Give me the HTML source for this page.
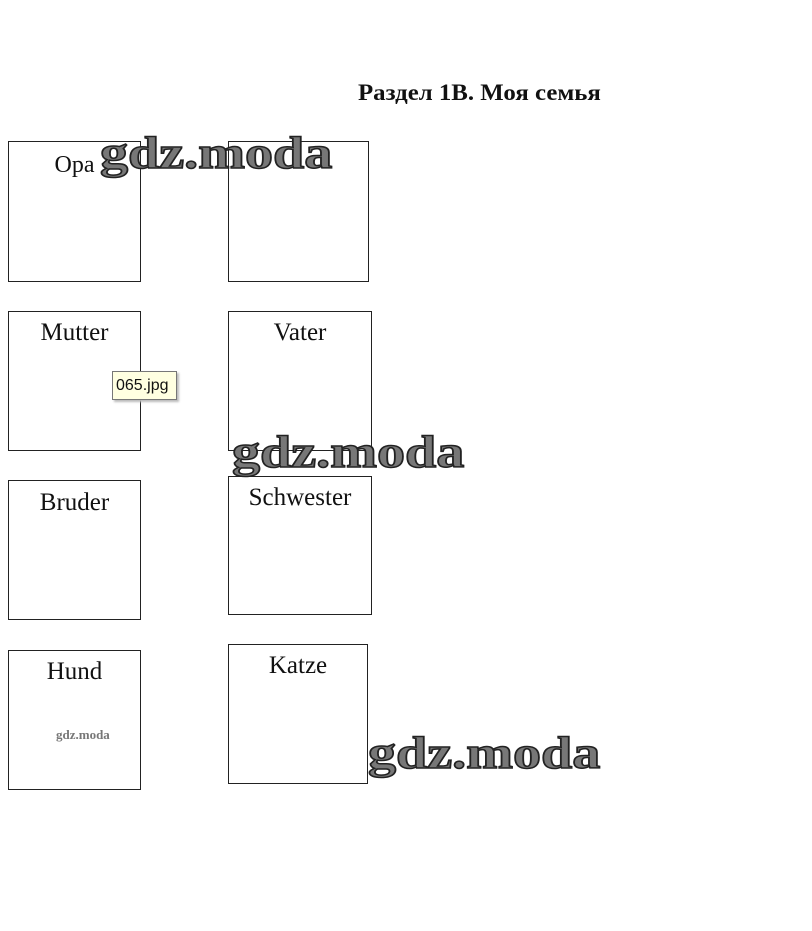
<!DOCTYPE html>
<html><head><meta charset="utf-8"><style>
body{margin:0;width:812px;height:931px;background:#fff;position:relative;overflow:hidden;font-family:"Liberation Serif",serif}
.b{position:absolute;border:1px solid #222;box-sizing:border-box}
.t{position:absolute;font-size:25px;color:#111;text-align:center;width:100%;left:0}
.w{position:absolute;font-family:"Liberation Serif",serif;font-weight:bold;font-size:46px;color:#777;-webkit-text-stroke:1.5px #222;letter-spacing:0px;line-height:1;transform-origin:0 0;transform:scaleX(1.22)}
</style></head><body>
<div style="position:absolute;left:358px;top:80px;font-size:23px;font-weight:bold;color:#111;transform-origin:0 0;transform:scaleX(1.08)">Раздел 1В. Моя семья</div>

<div class="b" style="left:8px;top:141px;width:133px;height:141px"><div class="t" style="top:10px;font-size:24px">Opa</div></div>
<div class="b" style="left:228px;top:141px;width:141px;height:141px"></div>
<div class="b" style="left:8px;top:311px;width:133px;height:140px"><div class="t" style="top:7px">Mutter</div></div>
<div class="b" style="left:228px;top:311px;width:144px;height:140px"><div class="t" style="top:7px">Vater</div></div>
<div class="b" style="left:8px;top:480px;width:133px;height:140px"><div class="t" style="top:8px">Bruder</div></div>
<div class="b" style="left:228px;top:476px;width:144px;height:139px"><div class="t" style="top:7px">Schwester</div></div>
<div class="b" style="left:8px;top:650px;width:133px;height:140px"><div class="t" style="top:7px">Hund</div></div>
<div class="b" style="left:228px;top:644px;width:140px;height:140px"><div class="t" style="top:7px">Katze</div></div>

<div style="position:absolute;left:56px;top:727px;font-size:13px;font-weight:bold;color:#777">gdz.moda</div>

<div class="w" style="left:100px;top:130px">gdz.moda</div>
<div class="w" style="left:232px;top:429px">gdz.moda</div>
<div class="w" style="left:368px;top:730px">gdz.moda</div>

<div style="position:absolute;left:112px;top:371px;width:65px;height:29px;box-sizing:border-box;background:#ffffe1;border:1px solid #777;box-shadow:2px 2px 2px #bbb;font-family:'Liberation Sans',sans-serif;font-size:16px;line-height:27px;padding-left:3px;color:#111">065.jpg</div>
</body></html>
